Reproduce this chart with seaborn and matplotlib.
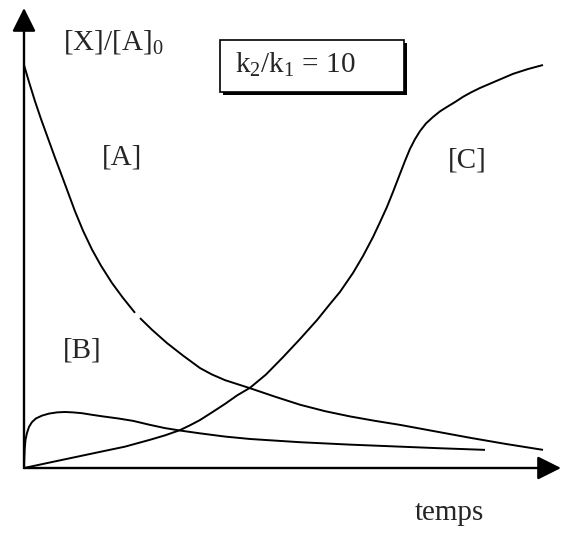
import matplotlib
matplotlib.use("Agg")
import matplotlib.pyplot as plt
from matplotlib.patches import Rectangle
import pandas as pd
import seaborn as sns

# Reduced concentrations [X]/[A]0 versus time for A -> B -> C with k2/k1 = 10
# [A]: drawn in two pieces (small break in the trace)
t_A1 = [0.00, 0.10, 0.22, 0.34, 0.48, 0.62, 0.76, 0.88, 1.02, 1.18, 1.36,
        1.54, 1.76, 1.98, 2.22]
c_A1 = [1.000, 0.958, 0.910, 0.866, 0.818, 0.770, 0.724, 0.684, 0.637, 0.589,
        0.542, 0.502, 0.459, 0.422, 0.385]
t_A2 = [2.32, 2.56, 2.86, 3.18, 3.52, 3.76, 4.02, 4.52, 5.02, 5.52, 6.02,
        6.52, 7.02, 7.52, 8.22, 8.92, 9.62, 10.38]
c_A2 = [0.372, 0.343, 0.310, 0.279, 0.248, 0.232, 0.218, 0.198, 0.177, 0.157,
        0.141, 0.128, 0.117, 0.107, 0.091, 0.075, 0.060, 0.045]

# [B]: intermediate
t_B = [0.000, 0.006, 0.014, 0.03, 0.06, 0.10, 0.16, 0.24, 0.36, 0.50, 0.66,
       0.82, 0.98, 1.16, 1.36, 1.58, 1.88, 2.18, 2.52, 2.82, 3.12, 3.52,
       4.02, 4.52, 5.02, 5.52, 6.52, 7.52, 8.32, 9.22]
c_B = [0.000, 0.025, 0.047, 0.070, 0.087, 0.102, 0.114, 0.123, 0.130, 0.135,
       0.138, 0.139, 0.138, 0.136, 0.132, 0.128, 0.123, 0.117, 0.107, 0.099,
       0.093, 0.086, 0.078, 0.072, 0.068, 0.064, 0.058, 0.053, 0.049, 0.045]

# [C]: final product
t_C = [0.00, 0.72, 1.52, 2.02, 2.52, 2.82, 3.12, 3.32, 3.52, 3.76, 4.02,
       4.26, 4.52, 4.84, 5.18, 5.52, 5.86, 6.12, 6.32, 6.58, 6.78, 6.98,
       7.12, 7.26, 7.38, 7.52, 7.62, 7.72, 7.82, 7.92, 8.04, 8.18, 8.32,
       8.46, 8.62, 8.78, 8.94, 9.12, 9.44, 9.78, 10.08, 10.38]
c_C = [0.000, 0.019, 0.040, 0.053, 0.070, 0.081, 0.094, 0.106, 0.119, 0.138,
       0.159, 0.180, 0.199, 0.232, 0.275, 0.320, 0.367, 0.407, 0.437, 0.484,
       0.526, 0.573, 0.610, 0.648, 0.685, 0.730, 0.762, 0.792, 0.816, 0.836,
       0.855, 0.871, 0.885, 0.896, 0.908, 0.921, 0.932, 0.943, 0.960, 0.978,
       0.990, 1.000]

x_label = "temps"
y_label = r"[X]/[A]$_0$"
ratio_label = r"k$_2$/k$_1$ = 10"
curve_labels = {"[A]": (102, 165), "[B]": (63, 357), "[C]": (448, 167)}

sns.set_theme(style="white")
plt.rcParams["font.family"] = ["Liberation Serif", "DejaVu Serif"]
plt.rcParams["mathtext.fontset"] = "custom"
plt.rcParams["mathtext.rm"] = "Liberation Serif"
plt.rcParams["mathtext.it"] = "Liberation Serif:italic"

W, H = 562, 536
fig = plt.figure(figsize=(W / 100, H / 100), dpi=100)
ax = fig.add_axes([0, 0, 1, 1])
ax.set_xlim(-0.48, 10.76)
ax.set_ylim(-68 / 403, 468 / 403)
ax.axis("off")


def fpos(x, y):
    """Figure-fraction position from pixel offsets (origin top-left)."""
    return x / W, 1 - y / H


frames = []
for name, t, c in [("A1", t_A1, c_A1), ("A2", t_A2, c_A2),
                   ("B", t_B, c_B), ("C", t_C, c_C)]:
    frames.append(pd.DataFrame({"t": t, "c": c, "trace": name}))
df = pd.concat(frames, ignore_index=True)

sns.lineplot(data=df, x="t", y="c", hue="trace", units="trace",
             estimator=None, sort=False, palette=["black"] * 4,
             legend=False, linewidth=1.4, solid_joinstyle="round",
             solid_capstyle="butt", ax=ax)

# Axes drawn as arrows from the origin
arrow = dict(arrowstyle="-|>,head_length=1.0,head_width=0.5",
             mutation_scale=14.4, lw=1.7, color="black",
             shrinkA=0, shrinkB=0)
ax.annotate("", xy=(10.74, 0), xytext=(0, 0), arrowprops=arrow)
ax.annotate("", xy=(0, 460 / 403), xytext=(0, 0), arrowprops=arrow)

fs = 21
fig.text(*fpos(63, 50), y_label, fontsize=fs, ha="left", va="baseline")
fig.text(*fpos(415, 520), x_label, fontsize=fs, ha="left", va="baseline")
for lab, (x, y) in curve_labels.items():
    fig.text(*fpos(x, y), lab, fontsize=fs, ha="left", va="baseline")

# Framed ratio with drop shadow
x0, y0, x1, y1 = 220, 40, 404, 92
sx, sy = 3, 3
fig.patches.append(Rectangle(fpos(x0 + sx, y1 + sy), (x1 - x0) / W,
                             (y1 - y0) / H, transform=fig.transFigure,
                             facecolor="black", edgecolor="black", lw=0))
fig.patches.append(Rectangle(fpos(x0, y1), (x1 - x0) / W, (y1 - y0) / H,
                             transform=fig.transFigure, facecolor="white",
                             edgecolor="black", lw=1.2))
fig.text(*fpos(235, 73), ratio_label, fontsize=fs, ha="left", va="baseline")

fig.savefig("out.png", dpi=100)
